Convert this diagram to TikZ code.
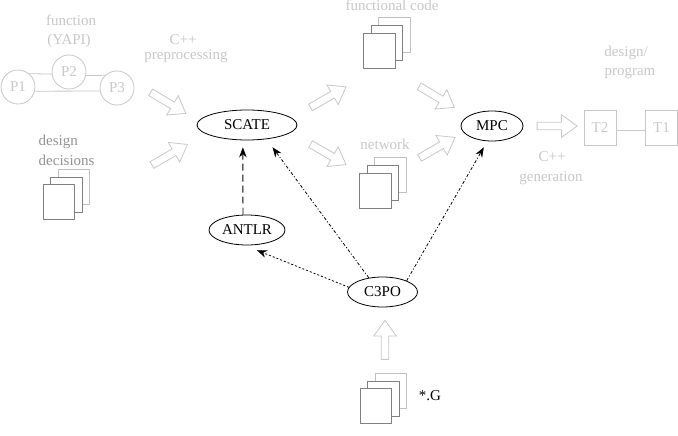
\documentclass[tikz,border=0pt]{standalone}
\usepackage{fontspec}
\setmainfont{Liberation Serif}
\usetikzlibrary{shapes.geometric,shapes.arrows,arrows.meta}
\definecolor{faint}{HTML}{C8C8C8}
\definecolor{midgray}{HTML}{808080}
\definecolor{backgray}{HTML}{C0C0C0}
\tikzset{
  lbl/.style={anchor=base,inner sep=0pt,font=\fontsize{15}{15}\selectfont},
  faintlbl/.style={lbl,text=faint},
  graylbl/.style={lbl,text=midgray!85!white},
  tool/.style={ellipse,draw=black,line width=0.8pt,fill=white,inner sep=0pt,font=\fontsize{15}{15}\selectfont},
  proc/.style={circle,draw=faint,line width=0.8pt,minimum size=34pt,inner sep=0pt,text=faint,font=\fontsize{15}{15}\selectfont},
  task/.style={rectangle,draw=faint,line width=0.8pt,minimum width=32pt,minimum height=35pt,inner sep=0pt,text=faint,font=\fontsize{15}{15}\selectfont},
  faintline/.style={draw=faint,line width=0.8pt},
  bigarrow/.style={single arrow,draw=faint,line width=0.8pt,inner sep=3.4pt,minimum height=#1,
     single arrow head extend=7.5pt,single arrow tip angle=72,font=\fontsize{1}{1}\selectfont},
  sheetfront/.style={rectangle,draw=midgray,line width=0.9pt,fill=white,anchor=north west,minimum width=31.5pt,minimum height=35pt,inner sep=0pt},
  sheetback/.style={sheetfront,draw=backgray},
  ref/.style={black,line width=0.8pt,-{Stealth[length=10pt,width=7.5pt]}},
}
\newcommand{\docstack}[3]{%
  \node[sheetback] (#1c) at (#2+15,#3-15.5) {};
  \node[sheetfront] (#1b) at (#2+7.5,#3-7.5) {};
  \node[sheetfront] (#1a) at (#2,#3) {};
}
\begin{document}
\begin{tikzpicture}[x=1pt,y=-1pt]
\useasboundingbox (0,0) rectangle (678,436);
\fill[white] (0,0) rectangle (678,436);

% process network
\node[proc] (p1) at (18,87) {P1};
\node[proc] (p2) at (69,72) {P2};
\node[proc] (p3) at (117,88) {P3};
\draw[faintline] (p1.50) -- (p2.187);
\draw[faintline] (p1.-14) -- (p3.190);
\draw[faintline] (p2.-12) -- (p3.133);
\node[faintlbl] (lf) at (71,26) {function};
\node[faintlbl] (ly) at (69,45) {(YAPI)};
\node[faintlbl] (lc) at (183,45) {C++};
\node[faintlbl] (lp) at (186,60) {preprocessing};

\node[graylbl,anchor=base west] (ld) at (38.5,145) {design};
\node[graylbl,anchor=base west] (ldd) at (38.5,165) {decisions};
\docstack{dd}{42.5}{184}

\node[faintlbl] (lfc) at (392,11) {functional code};
\docstack{fc}{363}{33}
\node[faintlbl] (ln) at (385,149) {network};
\docstack{nw}{359}{172.5}
\docstack{gg}{359.5}{388}
\node[lbl] (lg) at (430,400) {*.G};

% big arrows
\node[bigarrow=41pt,rotate=-31] (a1) at (166,101.5) {};
\node[bigarrow=41pt,rotate=30] (a2) at (167.5,156) {};
\node[bigarrow=41pt,rotate=30] (a3) at (326,98.5) {};
\node[bigarrow=41pt,rotate=-31] (a4) at (434.5,95.5) {};
\node[bigarrow=41pt,rotate=-30] (a5) at (326,153) {};
\node[bigarrow=41pt,rotate=30] (a6) at (435,149) {};
\node[bigarrow=40pt] (a7) at (554.5,126) {};
\node[bigarrow=39pt,rotate=90] (a8) at (385,342.5) {};

% tools
\node[tool,minimum width=100pt,minimum height=30pt] (scate) at (247,125) {SCATE};
\node[tool,minimum width=76pt,minimum height=30pt] (antlr) at (247,230) {ANTLR};
\node[tool,minimum width=70pt,minimum height=30pt] (c3po) at (382.5,292) {C3PO};
\node[tool,minimum width=62pt,minimum height=30pt] (mpc) at (492,126) {MPC};

% references
\draw[ref,dash pattern=on 7pt off 4pt,shorten >=7pt] (antlr.105) -- (scate.-105);
\draw[ref,dash pattern=on 3pt off 2pt on 1pt off 2pt,shorten >=10pt] (c3po.134) -- (scate.-36);
\draw[ref,dash pattern=on 2pt off 2pt,shorten >=13pt] (c3po.172) -- (antlr.-98);
\draw[ref,dash pattern=on 3pt off 2pt on 1pt off 2pt,shorten >=7pt] (c3po.25) -- (mpc.-107);

% target
\node[faintlbl] (ldp) at (626,57) {design/};
\node[faintlbl] (lpr) at (630,76) {program};
\node[task] (t2) at (600,127.5) {T2};
\node[task] (t1) at (661.5,127.5) {T1};
\draw[faintline] (t2.-9) -- (t1.189);
\node[faintlbl] (lc2) at (552,161) {C++};
\node[faintlbl] (lgen) at (551,181) {generation};
\end{tikzpicture}
\end{document}
